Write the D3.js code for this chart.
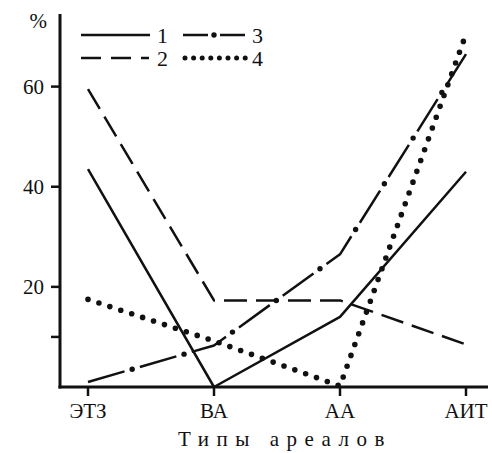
<!DOCTYPE html>
<html>
<head>
<meta charset="utf-8">
<script src="https://cdn.jsdelivr.net/npm/d3@7"></script>
<style>
  html, body { margin: 0; padding: 0; background: #fff; }
  svg { display: block; }
  .lbl { font-family: "Liberation Serif", "Times New Roman", Tinos, "DejaVu Serif", "Noto Serif", FreeSerif, serif; }
</style>
</head>
<body>
<svg id="chart" width="492" height="453"></svg>
<script>
// Types of ranges along the x axis
const categories = ["ЭТЗ", "ВА", "АА", "АИТ"];
// Share (%) per range type for each group
const series1 = [43.5, 0, 14, 43];
const series2 = [59.5, 17.3, 17.3, 8.5];
const series3 = [1, 8.3, 26.5, 66.5];
const series4 = [17.5, 9.2, 0.2, 70.5];
const seriesNames = ["1", "2", "3", "4"];
const yTicks = [10, 20, 40, 60];
const yTickLabels = { 10: "", 20: "20", 40: "40", 60: "60" };

const svg = d3.select("#chart");
const ink = "#111";

const x = d3.scalePoint().domain(categories).range([88, 466]);
const y = d3.scaleLinear().domain([0, 74.5]).range([387, 14]);

function label(sel) {
  return sel.attr("class", "lbl").attr("fill", ink);
}

// Axes drawn as plain lines so that the frame can run past the last category
svg.append("line").attr("x1", 60).attr("x2", 60).attr("y1", y(74.5)).attr("y2", y(0) + 1.5)
  .attr("stroke", ink).attr("stroke-width", 3);
svg.append("line").attr("x1", 58.5).attr("x2", 488).attr("y1", y(0)).attr("y2", y(0))
  .attr("stroke", ink).attr("stroke-width", 3);

// Y ticks
yTicks.forEach(t => {
  svg.append("line").attr("x1", 51).attr("x2", 60).attr("y1", y(t)).attr("y2", y(t))
    .attr("stroke", ink).attr("stroke-width", 2.5);
  if (yTickLabels[t]) {
    label(svg.append("text")).attr("x", 44).attr("y", y(t)).attr("dy", "0.35em")
      .attr("text-anchor", "end").attr("font-size", 21).text(yTickLabels[t]);
  }
});
label(svg.append("text")).attr("x", 47).attr("y", 28).attr("text-anchor", "end")
  .attr("font-size", 21).text("%");

// X ticks
categories.forEach(c => {
  svg.append("line").attr("x1", x(c)).attr("x2", x(c)).attr("y1", y(0)).attr("y2", y(0) + 9)
    .attr("stroke", ink).attr("stroke-width", 2.5);
  label(svg.append("text")).attr("x", x(c)).attr("y", 418).attr("text-anchor", "middle")
    .attr("font-size", 21).text(c);
});
label(svg.append("text")).attr("x", 285).attr("y", 446).attr("text-anchor", "middle")
  .attr("font-size", 21).attr("letter-spacing", "7.5px").text("Типы ареалов");

// Line styles per series
const styles = [
  { dash: null, width: 2.5, cap: "butt" },
  { dash: "23 9", width: 2.5, cap: "butt" },
  { dash: "38 8 0 8", width: 2.5, cap: "butt", period: 54, dotAt: 46 },
  { dash: "0 11.5", width: 5.6, cap: "round" }
];
const allSeries = [series1, series2, series3, series4];

const line = d3.line().x((d, i) => x(categories[i])).y(d => y(d));

allSeries.forEach((s, k) => {
  const st = styles[k];
  const p = svg.append("path").datum(s).attr("d", line)
    .attr("fill", "none").attr("stroke", ink)
    .attr("stroke-width", st.width)
    .attr("stroke-linecap", st.cap)
    .attr("stroke-linejoin", "round")
    .attr("stroke-dasharray", st.dash);
  if (st.period) {
    // dots of the dash-dot pattern, placed in the middle of each gap pair
    const node = p.node();
    const L = node.getTotalLength();
    for (let l = st.dotAt; l < L; l += st.period) {
      const pt = node.getPointAtLength(l);
      svg.append("circle").attr("cx", pt.x).attr("cy", pt.y).attr("r", 2.7).attr("fill", ink);
    }
  }
});

// Legend
const legend = [
  { k: 0, x0: 81, x1: 150, y: 35, tx: 157 },
  { k: 1, x0: 81, x1: 149, y: 58, tx: 157 },
  { k: 2, x0: 183, x1: 245, y: 35, tx: 252 },
  { k: 3, x0: 185, x1: 246, y: 58, tx: 252 }
];
legend.forEach(l => {
  const st = styles[l.k];
  let dash = st.dash;
  if (l.k === 1) dash = "20 10";
  if (l.k === 2) dash = "25 6 0 6 25";
  if (l.k === 3) dash = "0 8.6";
  svg.append("line").attr("x1", l.x0).attr("x2", l.x1).attr("y1", l.y).attr("y2", l.y)
    .attr("stroke", ink).attr("stroke-width", l.k === 3 ? 5 : 2.6)
    .attr("stroke-linecap", st.cap).attr("stroke-dasharray", dash);
  if (l.k === 2) {
    svg.append("circle").attr("cx", l.x0 + 31).attr("cy", l.y).attr("r", 2.7).attr("fill", ink);
  }
  label(svg.append("text")).attr("x", l.tx).attr("y", l.y).attr("dy", "0.35em")
    .attr("font-size", 22).text(seriesNames[l.k]);
});
</script>
</body>
</html>
